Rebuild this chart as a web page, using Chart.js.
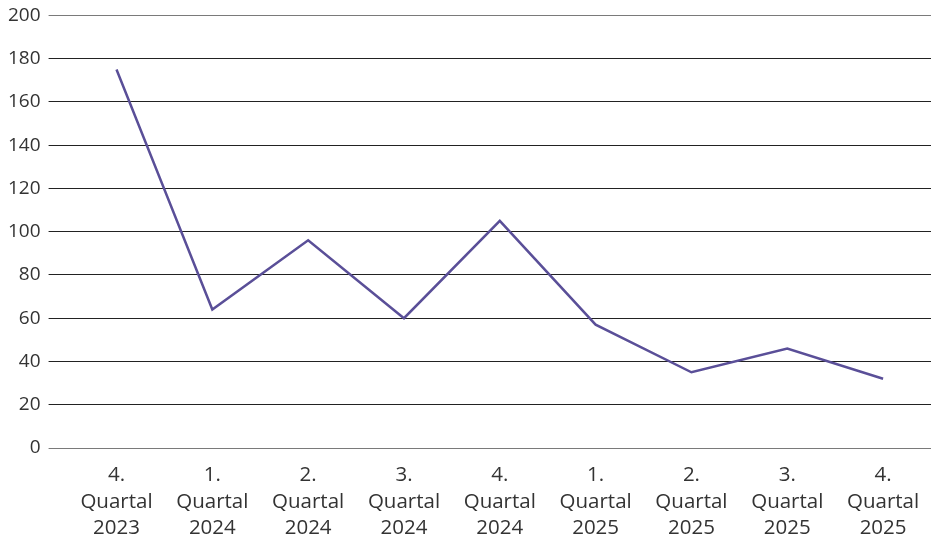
<!DOCTYPE html>
<html>
<head>
<meta charset="utf-8">
<script src="https://cdn.jsdelivr.net/npm/chart.js@4"></script>
<style>
  html, body { margin: 0; padding: 0; background: #fff; overflow: hidden; }
  #wrap { width: 938px; height: 543px; margin-top: -4px; }
</style>
</head>
<body>
<div id="wrap"><canvas id="chart"></canvas></div>
<script>
// quarters and values
const quarters = [
  ['4.', 'Quartal', '2023'],
  ['1.', 'Quartal', '2024'],
  ['2.', 'Quartal', '2024'],
  ['3.', 'Quartal', '2024'],
  ['4.', 'Quartal', '2024'],
  ['1.', 'Quartal', '2025'],
  ['2.', 'Quartal', '2025'],
  ['3.', 'Quartal', '2025'],
  ['4.', 'Quartal', '2025'],
];
const values = [175, 64, 96, 60, 105, 57, 35, 46, 32];
const yTicks = [0, 20, 40, 60, 80, 100, 120, 140, 160, 180, 200];

Chart.defaults.font.family = "'Open Sans', 'Noto Sans', sans-serif";
Chart.defaults.color = '#333';

new Chart(document.getElementById('chart'), {
  type: 'line',
  data: {
    labels: quarters,
    datasets: [{
      data: values,
      borderColor: '#5a4f98',
      borderWidth: 2.5,
      pointRadius: 0,
      tension: 0,
      fill: false,
    }],
  },
  options: {
    responsive: true,
    maintainAspectRatio: false,
    animation: false,
    layout: { padding: { top: 0, right: 7, left: 0, bottom: 0 } },
    plugins: {
      legend: { display: false },
      tooltip: { enabled: false },
    },
    scales: {
      x: {
        offset: true,
        grid: { display: false },
        border: { display: false },
        afterFit: (axis) => { axis.height = 91; },
        ticks: {
          font: { size: 20.5, lineHeight: 1.3 },
          padding: 6,
          maxRotation: 0,
          autoSkip: false,
        },
      },
      y: {
        min: 0,
        max: 200,
        afterBuildTicks: (axis) => { axis.ticks = yTicks.map((v) => ({ value: v })); },
        border: { display: false },
        grid: {
          color: (ctx) => (ctx.tick && (ctx.tick.value === 0 || ctx.tick.value === 200) ? '#7a7a7a' : '#222'),
          lineWidth: 1,
          tickLength: 20,
        },
        ticks: {
          font: { size: 19 },
          padding: 8,
        },
      },
    },
  },
});
</script>
</body>
</html>
